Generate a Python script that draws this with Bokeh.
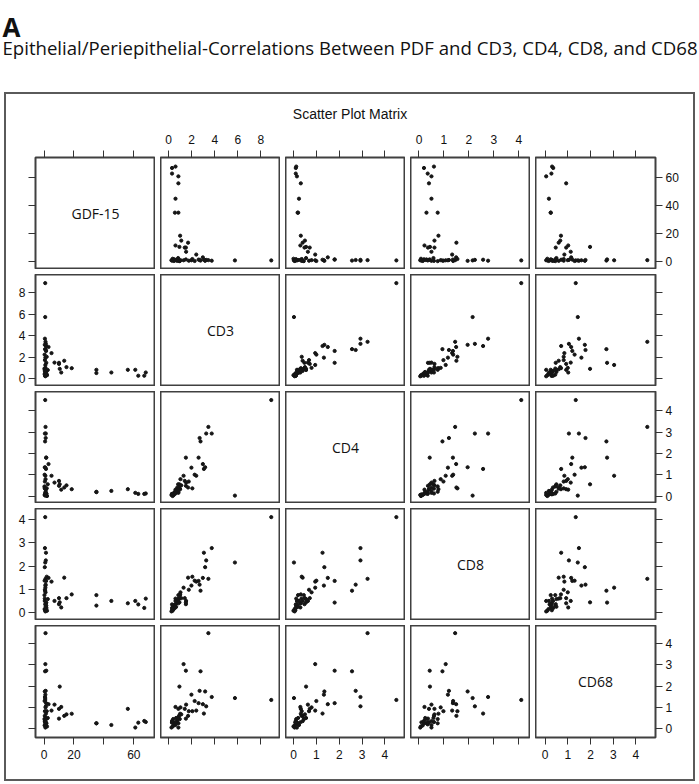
from bokeh.plotting import figure
from bokeh.models import Range1d, LinearAxis, FixedTicker, Label, GridBox, Column
from bokeh.layouts import column
from bokeh.embed import file_html
from bokeh.resources import INLINE

names = ["GDF-15", "CD3", "CD4", "CD8", "CD68"]

gdf = [0.8, 0.8, 1.0, 0.6, 1.2, 0.9, 1.5, 0.7, 1.1, 0.5, 1.3, 10.5, 0.9, 1.4, 3.0, 0.4,
       5.0, 13.5, 1.8, 0.6, 7.0, 10.0, 1.0, 15.0, 0.3, 18.5, 0.5, 1.2, 11.5, 0.8, 1.6, 0.4,
       2.0, 0.7, 1.1, 0.5, 2.5, 1.5, 0.9, 10.0, 35, 35, 45, 56, 61, 63, 67, 68]
cd3 = [8.9, 5.75, 3.45, 3.74, 3.26, 1.3, 1.5, 2.77, 2.69, 3.17, 3.06, 0.94, 1.98, 2.6, 2.97, 2.26,
       2.4, 1.69, 2.06, 1.75, 1.52, 1.4, 1.03, 1.1, 0.97, 1.0, 0.75, 0.7, 0.6, 0.55, 0.5, 0.45,
       0.35, 0.3, 0.65, 0.9, 0.83, 0.4, 0.25, 1.5, 0.85, 0.55, 0.6, 0.85, 0.85, 0.3, 0.3, 0.6]
cd4 = [4.5, 0.02, 3.24, 2.93, 2.93, 0.95, 1.8, 2.56, 2.72, 1.35, 1.27, 0.55, 1.33, 1.8, 1.5, 1.0,
       0.95, 0.4, 0.36, 0.68, 0.63, 0.71, 0.79, 0.5, 0.45, 0.32, 0.4, 0.3, 0.3, 0.15, 0.1, 0.05,
       0.0, 0.08, 0.2, 0.35, 0.55, 0.12, 0.05, 0.48, 0.2, 0.18, 0.24, 0.32, 0.15, 0.1, 0.1, 0.12]
cd8 = [4.1, 2.15, 1.45, 2.77, 2.24, 1.07, 0.43, 0.94, 1.2, 1.95, 2.57, 0.44, 1.16, 1.36, 1.49, 1.37,
       1.33, 1.5, 1.54, 0.98, 0.5, 0.62, 0.87, 0.62, 0.75, 0.78, 0.5, 0.4, 0.22, 0.35, 0.2, 0.15,
       0.08, 0.1, 0.25, 0.6, 0.58, 0.3, 0.05, 0.36, 0.75, 0.3, 0.5, 0.4, 0.5, 0.35, 0.2, 0.6]
cd68 = [1.35, 1.44, 4.5, 1.49, 1.05, 3.04, 2.73, 2.7, 1.78, 1.75, 0.71, 1.98, 1.6, 1.2, 1.15, 1.3,
        0.85, 0.6, 0.82, 0.82, 1.13, 0.93, 1.0, 0.67, 0.45, 0.7, 0.35, 0.3, 1.02, 0.2, 0.25, 0.15,
        0.1, 0.3, 0.5, 0.6, 0.5, 0.45, 0.05, 0.47, 0.25, 0.25, 0.17, 0.93, 0.05, 0.28, 0.36, 0.31]

data = {"GDF-15": gdf, "CD3": cd3, "CD4": cd4, "CD8": cd8, "CD68": cd68}

axis_ranges = {"GDF-15": (-5.7, 74.5), "CD3": (-0.7, 9.7), "CD4": (-0.35, 4.9),
               "CD8": (-0.34, 4.47), "CD68": (-0.42, 4.86)}
tick_vals = {"GDF-15": [0, 20, 40, 60], "CD3": [0, 2, 4, 6, 8], "CD4": [0, 1, 2, 3, 4],
             "CD8": [0, 1, 2, 3, 4], "CD68": [0, 1, 2, 3, 4]}
# tick values that carry no text in the original (GDF-15 "40" on the bottom axis)
hidden_bottom_labels = {"GDF-15": [40]}

top_labeled = {1, 3}
bottom_labeled = {0, 2, 4}
left_labeled = {1, 3}
right_labeled = {0, 2, 4}

FW, FH = 120, 112
LB, RB, TB, BB = 29, 38, 31, 42
TICK_FONT = "Liberation Sans Narrow, Liberation Sans, sans-serif"


def add_axis(p, side, var, labeled):
    ax = LinearAxis(ticker=FixedTicker(ticks=tick_vals[var]))
    ax.axis_line_color = None
    ax.major_tick_out = 7
    ax.major_tick_in = 0
    ax.major_tick_line_color = "#333333"
    ax.major_tick_line_width = 1
    ax.minor_tick_line_color = None
    ax.major_label_text_font = TICK_FONT
    ax.major_label_text_font_size = "12px"
    ax.major_label_text_color = "#111111"
    if side == "above":
        ax.major_label_standoff = 7
    elif side == "below":
        ax.major_label_standoff = 5
    else:
        ax.major_label_standoff = 3
    if not labeled:
        ax.major_label_overrides = {t: "" for t in tick_vals[var]}
    elif side == "below" and var in hidden_bottom_labels:
        ax.major_label_overrides = {t: "" for t in hidden_bottom_labels[var]}
    p.add_layout(ax, side)


cells = []
for r in range(5):
    for c in range(5):
        xv, yv = names[c], names[r]
        w = FW + (LB if c == 0 else 0) + (RB if c == 4 else 0)
        h = FH + (TB if r == 0 else 0) + (BB if r == 4 else 0)
        p = figure(width=w, height=h,
                   x_range=Range1d(*axis_ranges[xv]), y_range=Range1d(*axis_ranges[yv]),
                   x_axis_location=None, y_axis_location=None,
                   toolbar_location=None, output_backend="svg",
                   min_border=0,
                   min_border_left=LB if c == 0 else 0,
                   min_border_right=RB if c == 4 else 0,
                   min_border_top=TB if r == 0 else 0,
                   min_border_bottom=BB if r == 4 else 0)
        p.xgrid.visible = False
        p.ygrid.visible = False
        p.outline_line_color = "#404040"
        p.outline_line_width = 2
        p.background_fill_color = "white"
        p.border_fill_color = "white"
        if r == c:
            p.add_layout(Label(x=sum(axis_ranges[xv]) / 2, y=sum(axis_ranges[yv]) / 2,
                               text=names[r], text_align="center", text_baseline="middle",
                               text_font="Open Sans", text_font_size="14px",
                               text_color="#111111"))
        else:
            p.scatter(x=data[xv], y=data[yv], size=3.2, color="#151515", marker="circle")
        if r == 0:
            add_axis(p, "above", xv, c in top_labeled)
        if r == 4:
            add_axis(p, "below", xv, c in bottom_labeled)
        if c == 0:
            add_axis(p, "left", yv, r in left_labeled)
        if c == 4:
            add_axis(p, "right", yv, r in right_labeled)
        cells.append((p, r, c))

grid = GridBox(children=cells, spacing=5)

inner_w = 687
title_fig = figure(width=inner_w, height=32, x_range=Range1d(0, inner_w), y_range=Range1d(32, 0),
                   x_axis_location=None, y_axis_location=None, toolbar_location=None,
                   output_backend="svg", min_border=0)
title_fig.outline_line_color = None
title_fig.xgrid.visible = False
title_fig.ygrid.visible = False
title_fig.add_layout(Label(x=inner_w / 2, y=19, text="Scatter Plot Matrix", text_align="center",
                           text_baseline="middle", text_font="Liberation Sans",
                           text_font_size="14px", text_color="#111111"))

box = Column(children=[title_fig, grid], styles={"border": "2px solid #5a5a5a"},
             margin=(0, 0, 0, 4))

header = figure(width=699, height=92, x_range=Range1d(0, 699), y_range=Range1d(92, 0),
                x_axis_location=None, y_axis_location=None, toolbar_location=None,
                output_backend="svg", min_border=0)
header.outline_line_color = None
header.xgrid.visible = False
header.ygrid.visible = False
header.add_layout(Label(x=2, y=26, text="A", text_font="Open Sans", text_font_style="bold",
                        text_font_size="26px", text_baseline="alphabetic", text_color="#111111"))
header.add_layout(Label(x=2, y=47,
                        text="Epithelial/Periepithelial-Correlations  Between PDF and CD3, CD4, CD8, and CD68",
                        text_font="Open Sans", text_font_size="18.6px", text_baseline="alphabetic",
                        text_color="#111111"))

page = column(header, box)

open("out.html", "w").write(file_html(page, INLINE))
